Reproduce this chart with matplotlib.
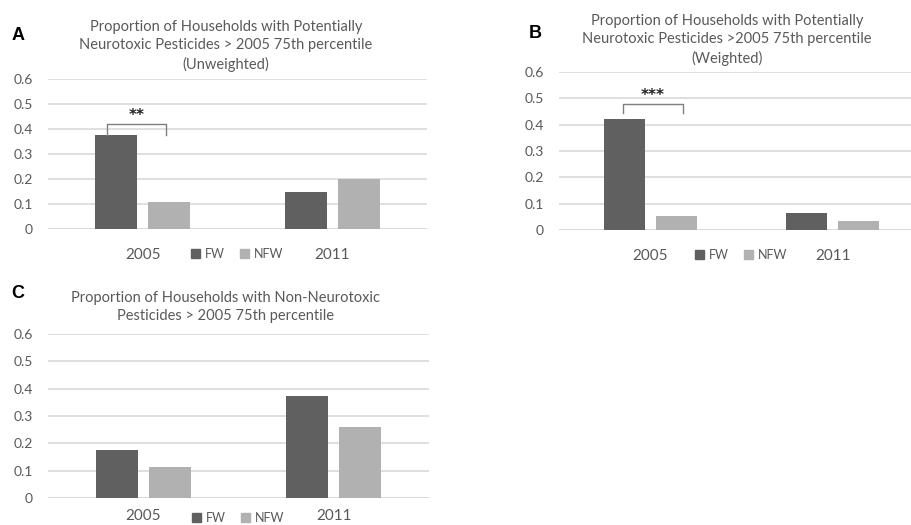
import numpy as np
import matplotlib.pyplot as plt
from matplotlib.patches import Patch

plt.rcParams['font.family'] = ['Lato', 'DejaVu Sans']

# proportions of households above the 2005 75th percentile
years = ['2005', '2011']
groups = ['FW', 'NFW']
a_fw = [0.375, 0.15]
a_nfw = [0.11, 0.2]
b_fw = [0.42, 0.065]
b_nfw = [0.055, 0.035]
c_fw = [0.175, 0.375]
c_nfw = [0.115, 0.26]

titles = ['Proportion of Households with Potentially\nNeurotoxic Pesticides > 2005 75th percentile\n(Unweighted)',
          'Proportion of Households with Potentially\nNeurotoxic Pesticides >2005 75th percentile\n(Weighted)',
          'Proportion of Households with Non-Neurotoxic\nPesticides > 2005 75th percentile']
letters = ['A', 'B', 'C']

dark = '#606060'
light = '#b1b1b1'
txt = '#595959'
grid = '#d9d9d9'

W, H = 912, 525
fig = plt.figure(figsize=(W / 100, H / 100), dpi=100)


def px_axes(left, top, right, bottom):
    return fig.add_axes([left / W, 1 - bottom / H, (right - left) / W, (bottom - top) / H])


def panel(ax, fw, nfw, width, off, pad=14, leg_y=-0.05):
    x = np.arange(len(years))
    ax.bar(x - off, fw, width, color=dark, zorder=3)
    ax.bar(x + off, nfw, width, color=light, zorder=3)
    ax.set_xlim(-0.5, 1.5)
    ax.set_ylim(0, 0.6)
    ax.set_yticks(np.arange(0, 0.61, 0.1))
    ax.set_yticklabels(['0'] + ['%.1f' % v for v in np.arange(0.1, 0.61, 0.1)])
    ax.yaxis.grid(True, color=grid, lw=1.2, zorder=0)
    ax.set_axisbelow(True)
    for s in ax.spines.values():
        s.set_visible(False)
    ax.set_xticks(x)
    ax.set_xticklabels(years, fontsize=11, color=txt)
    ax.tick_params(axis='x', length=0, pad=pad)
    ax.tick_params(axis='y', length=0, pad=11, labelsize=10, labelcolor=txt)
    ax.axhline(0, color=grid, lw=1.2, zorder=1)
    handles = [Patch(color=dark), Patch(color=light)]
    ax.legend(handles, groups, loc='upper center', bbox_to_anchor=(0.5, leg_y),
              ncol=2, frameon=False, fontsize=9, labelcolor=txt,
              handlelength=0.7, handleheight=0.7, handletextpad=0.4, columnspacing=1.2)
    return x


def bracket(ax, x0, x1, y_low, y_top, stars, star_y):
    ax.plot([x0, x0, x1, x1], [y_low, y_top, y_top, y_low], color='#7f7f7f', lw=1, zorder=4)
    ax.text((x0 + x1) / 2, star_y, stars, ha='center', va='center',
            fontsize=11, fontweight='bold', color='#222222', family='DejaVu Sans')


# panel A
axA = px_axes(48, 79, 427, 229)
xA = panel(axA, a_fw, a_nfw, 0.22, 0.14)
bracket(axA, xA[0] - 0.19, xA[0] + 0.123, a_fw[0], a_fw[0] + 0.045, '**', a_fw[0] + 0.08)

# panel B (runs past the right edge)
axB = px_axes(559, 72, 924, 230)
xB = panel(axB, b_fw, b_nfw, 0.225, 0.143)
bracket(axB, xB[0] - 0.15, xB[0] + 0.18, b_fw[0] + 0.025, b_fw[0] + 0.058, '***', b_fw[0] + 0.09)

# panel C, labels squeezed up a little so they stay on the page
axC = px_axes(48, 334, 429, 498)
panel(axC, c_fw, c_nfw, 0.22, 0.14, pad=8, leg_y=-0.015)

title_pos = [(226, 46), (727, 40), (226, 307)]
letter_pos = [(18, 35), (535, 33), (18, 294)]
for t, (tx, ty), l, (lx, ly) in zip(titles, title_pos, letters, letter_pos):
    fig.text(tx / W, 1 - ty / H, t, ha='center', va='center', fontsize=10.5,
             color=txt, linespacing=1.35)
    fig.text(lx / W, 1 - ly / H, l, ha='center', va='center', fontsize=13,
             fontweight='bold', color='black', family='Liberation Sans')

fig.savefig('out.png', dpi=100)
